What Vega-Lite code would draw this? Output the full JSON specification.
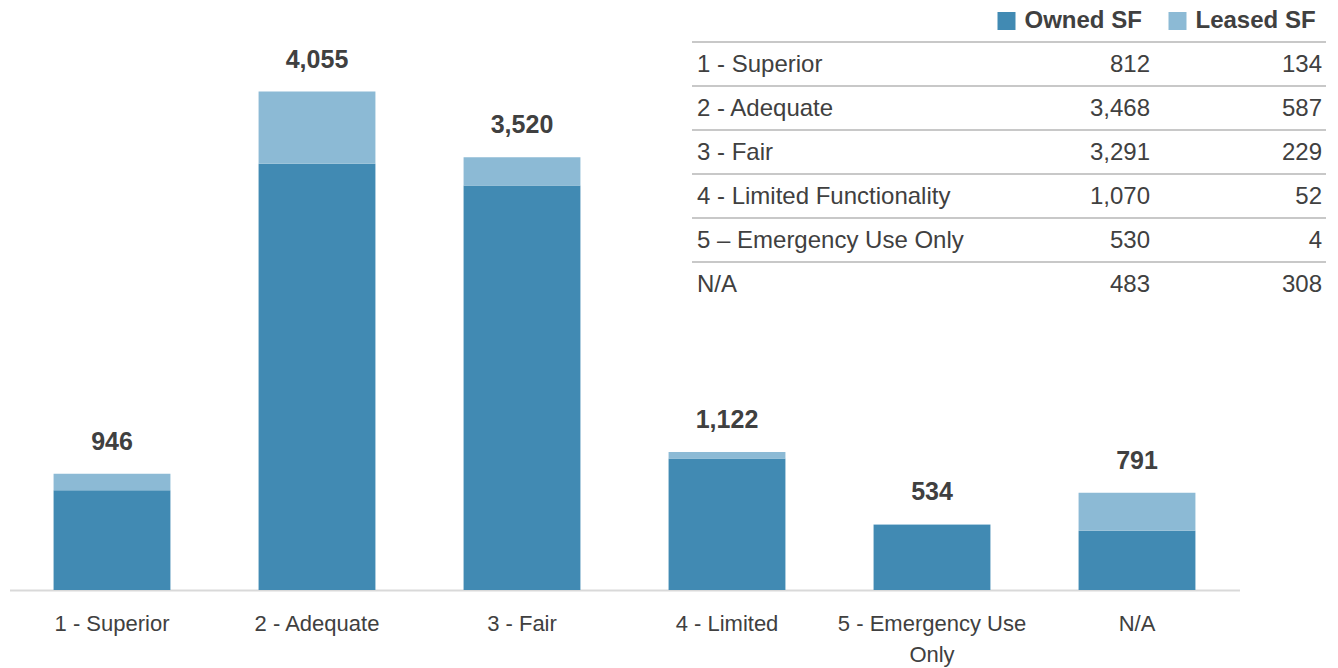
{
  "$schema": "https://vega.github.io/schema/vega-lite/v6.json",
  "width": 1230,
  "height": 590,
  "autosize": "none",
  "padding": {"left": 9.5, "top": 0, "right": 98.5, "bottom": 78},
  "config": {"view": {"stroke": null}, "font": "Liberation Sans", "background": "white"},
  "datasets": {
    "bars": [
      {"category": "1 - Superior", "type": "Owned SF", "sf": 812},
      {"category": "1 - Superior", "type": "Leased SF", "sf": 134},
      {"category": "2 - Adequate", "type": "Owned SF", "sf": 3468},
      {"category": "2 - Adequate", "type": "Leased SF", "sf": 587},
      {"category": "3 - Fair", "type": "Owned SF", "sf": 3291},
      {"category": "3 - Fair", "type": "Leased SF", "sf": 229},
      {"category": "4 - Limited", "type": "Owned SF", "sf": 1070},
      {"category": "4 - Limited", "type": "Leased SF", "sf": 52},
      {"category": "5 - Emergency Use Only", "type": "Owned SF", "sf": 530},
      {"category": "5 - Emergency Use Only", "type": "Leased SF", "sf": 4},
      {"category": "N/A", "type": "Owned SF", "sf": 483},
      {"category": "N/A", "type": "Leased SF", "sf": 308}
    ],
    "table": [
      {"label": "1 - Superior", "owned": 812, "leased": 134},
      {"label": "2 - Adequate", "owned": 3468, "leased": 587},
      {"label": "3 - Fair", "owned": 3291, "leased": 229},
      {"label": "4 - Limited Functionality", "owned": 1070, "leased": 52},
      {"label": "5 – Emergency Use Only", "owned": 530, "leased": 4},
      {"label": "N/A", "owned": 483, "leased": 308}
    ]
  },
  "layer": [
    {
      "data": {"name": "bars"},
      "encoding": {
        "x": {
          "field": "category",
          "type": "nominal",
          "sort": null,
          "scale": {"type": "band", "paddingInner": 0.43, "paddingOuter": 0.215},
          "axis": {
            "title": null,
            "labelAngle": 0,
            "labelFont": "Liberation Sans",
            "labelFontSize": 22,
            "labelColor": "#404040",
            "labelPadding": 23,
            "labelBaseline": "top",
            "labelLineHeight": 31,
            "labelLimit": 400,
            "labelExpr": "datum.value == '5 - Emergency Use Only' ? ['5 - Emergency Use', 'Only'] : datum.value",
            "ticks": false,
            "domainColor": "#D9D9D9",
            "domainWidth": 2,
            "grid": false
          }
        }
      },
      "layer": [
        {
          "mark": {"type": "bar"},
          "encoding": {
            "y": {
              "field": "sf",
              "type": "quantitative",
              "aggregate": "sum",
              "stack": "zero",
              "scale": {"domain": [0, 4800], "nice": false},
              "axis": null
            },
            "color": {
              "field": "type",
              "type": "nominal",
              "scale": {"domain": ["Owned SF", "Leased SF"], "range": ["#418AB3", "#8CBAD5"]},
              "legend": {
                "title": null,
                "orient": "none",
                "legendX": 985,
                "legendY": 9,
                "direction": "horizontal",
                "symbolType": "square",
                "symbolSize": 324,
                "symbolStrokeWidth": 0,
                "labelFontSize": 24,
                "labelFontWeight": "bold",
                "labelColor": "#404040",
                "labelOffset": 6,
                "columnPadding": 23
              }
            },
            "order": {"field": "type", "sort": "descending"}
          }
        },
        {
          "mark": {"type": "text", "fontSize": 25, "fontWeight": "bold", "color": "#404040", "baseline": "alphabetic", "dy": -24},
          "encoding": {
            "y": {
              "field": "sf",
              "type": "quantitative",
              "aggregate": "sum",
              "scale": {"domain": [0, 4800], "nice": false},
              "axis": null
            },
            "text": {"field": "sf", "aggregate": "sum", "type": "quantitative", "format": ",d"}
          }
        }
      ]
    },
    {
      "data": {"name": "table"},
      "encoding": {
        "y": {
          "field": "label",
          "type": "nominal",
          "sort": null,
          "scale": {"type": "band", "range": [42, 306], "paddingInner": 0, "paddingOuter": 0},
          "axis": null
        }
      },
      "layer": [
        {
          "mark": {"type": "rule", "color": "#C8C8C8", "strokeWidth": 2},
          "encoding": {
            "y": {"field": "label", "type": "nominal", "sort": null, "bandPosition": 0, "scale": {"type": "band", "range": [42, 306], "paddingInner": 0, "paddingOuter": 0}, "axis": null},
            "x": {"datum": 0, "type": "quantitative", "scale": {"domain": [0, 634], "range": [682.5, 1316.5], "nice": false, "zero": false}, "axis": null},
            "x2": {"datum": 634}
          }
        },
        {
          "mark": {"type": "text", "align": "left", "fontSize": 24, "color": "#404040", "dy": 1},
          "encoding": {
            "x": {"datum": 5, "type": "quantitative"},
            "text": {"field": "label", "type": "nominal"}
          }
        },
        {
          "mark": {"type": "text", "align": "right", "fontSize": 24, "color": "#404040", "dy": 1},
          "encoding": {
            "x": {"datum": 458, "type": "quantitative"},
            "text": {"field": "owned", "type": "quantitative", "format": ",d"}
          }
        },
        {
          "mark": {"type": "text", "align": "right", "fontSize": 24, "color": "#404040", "dy": 1},
          "encoding": {
            "x": {"datum": 630, "type": "quantitative"},
            "text": {"field": "leased", "type": "quantitative", "format": ",d"}
          }
        }
      ]
    }
  ],
  "resolve": {"scale": {"x": "independent", "y": "independent"}, "axis": {"x": "independent", "y": "independent"}}
}
